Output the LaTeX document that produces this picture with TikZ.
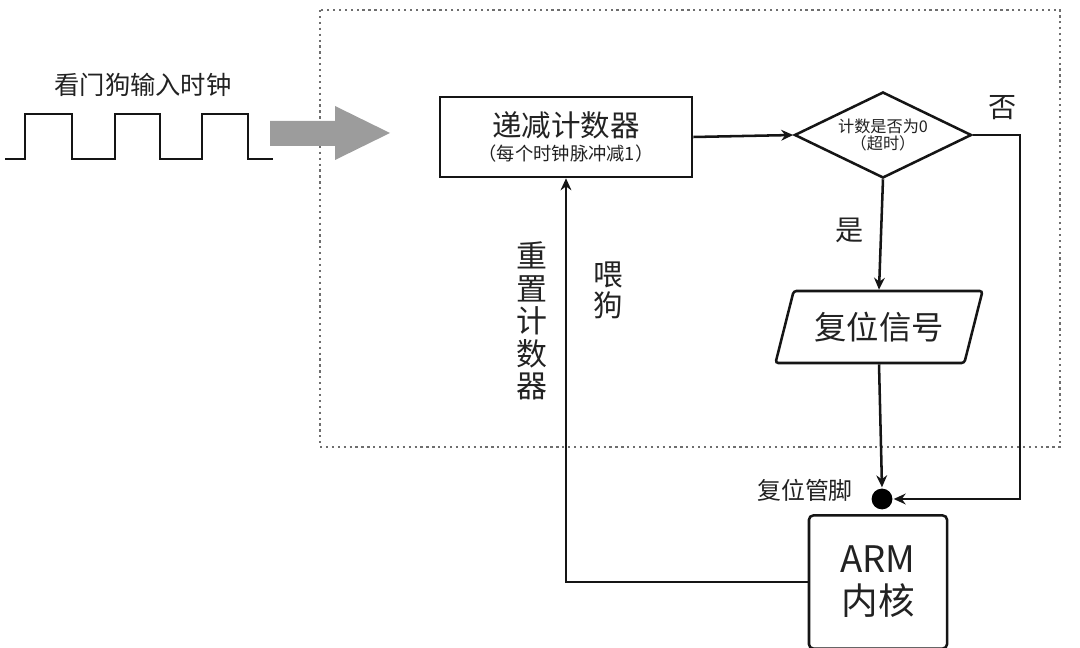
\documentclass[tikz,border=0pt]{standalone}
\usepackage{fontspec}
\setmainfont{Noto Sans CJK SC}
\usetikzlibrary{arrows.meta, shapes.geometric, positioning}
\definecolor{wdInk}{HTML}{151515}
\definecolor{wdText}{HTML}{222222}
\definecolor{wdGrey}{HTML}{9C9C9C}
\definecolor{wdDots}{HTML}{6E6E6E}
\tikzset{
  % one line weight for boxes and wires, small stealth tips
  every picture/.append style = {line width=1.8pt, >={Stealth[length=3mm, width=2.7mm]}},
  wire/.style      = {->, wdInk},
  plainbox/.style  = {draw=wdInk, fill=white, text=wdText, align=center, inner sep=2pt},
  decide/.style    = {diamond, draw=wdInk, fill=white, text=wdText, align=center,
                      inner sep=0pt, aspect=2.06},
  iobox/.style     = {trapezium, trapezium left angle=63, trapezium right angle=117,
                      trapezium stretches body, draw=wdInk, fill=white, text=wdText,
                      rounded corners=2pt, inner sep=2pt},
  pindot/.style    = {circle, fill=black, inner sep=0pt, minimum size=0.52cm},
  lbl/.style       = {text=wdText, font=\fontsize{20}{24}\selectfont},
  slbl/.style      = {text=wdText, font=\fontsize{17}{20}\selectfont},
  vlbl/.style      = {text=wdText, align=center, inner sep=0pt},
}

\begin{document}
\begin{tikzpicture}[x=0.025cm, y=-0.025cm,
    wave/.style={wdInk, line width=1.9pt, line join=miter},
    frame/.style={wdDots, line width=2pt, dash pattern=on 1.6pt off 2.6pt}]
  \useasboundingbox (0,0) rectangle (1080,648);
  % watchdog boundary
  \draw[frame] (320,10) rectangle (1060,447);
  % input clock
  \node[slbl, font=\fontsize{18}{20}\selectfont] (clocktitle) at (143,85) {看门狗输入时钟};
  \draw[wave] (5,159) foreach \r/\f in {25/72,115/160,202/248}
     { -- (\r,159) -- (\r,114) -- (\f,114) -- (\f,159) } -- (273,159);
  \fill[wdGrey] (270,121) -- (335,121) -- (335,106) -- (390,133)
     -- (335,160) -- (335,146) -- (270,146) -- cycle;
  % blocks
  \node[plainbox, minimum width=6.3cm, minimum height=2cm] (counter) at (566,137)
     {\fontsize{21}{23}\selectfont 递减计数器\\[3pt]{\fontsize{13}{15}\selectfont （每个时钟脉冲减1）}};
  \node[decide, minimum width=4.425cm, minimum height=2.15cm] (check) at (883,135)
     {\fontsize{11.5}{14}\selectfont 计数是否为0\\{\fontsize{11.5}{14}\selectfont （超时）}};
  \node[iobox, minimum width=5.175cm, minimum height=1.8cm,
        font=\fontsize{23}{26}\selectfont] (reset) at (879,327) {复位信号};
  \node[pindot] (pin) at (882,499) {};
  \node[plainbox, rounded corners=3pt, minimum width=3.45cm, minimum height=3.325cm,
        font=\fontsize{26}{30}\selectfont] (core) at (878,582) {ARM\\内核};
  \coordinate (nobend) at (1020,499);
  % labels
  \node[lbl] (nolbl) at (1003,108) {否};
  \node[lbl] (yeslbl) at (850,230) {是};
  \node[slbl] (pinlbl) at (805,490) {复位管脚};
  \node[vlbl, font=\fontsize{22}{23}\selectfont] (resetlbl) at (532,321) {重\\置\\计\\数\\器};
  \node[vlbl, font=\fontsize{21}{22}\selectfont] (feedlbl) at (608,290) {喂\\狗};
  % connections
  \draw[wire] (counter.east) -- (check.west);
  \draw[wire] (check.south) -- (reset.north);
  \draw[wire] (reset.south) -- (pin.north);
  \draw[wire] (check.east) -| (nobend) -- (pin.east);
  \draw[wire] (core.west) -| (counter.south);
\end{tikzpicture}
\end{document}
